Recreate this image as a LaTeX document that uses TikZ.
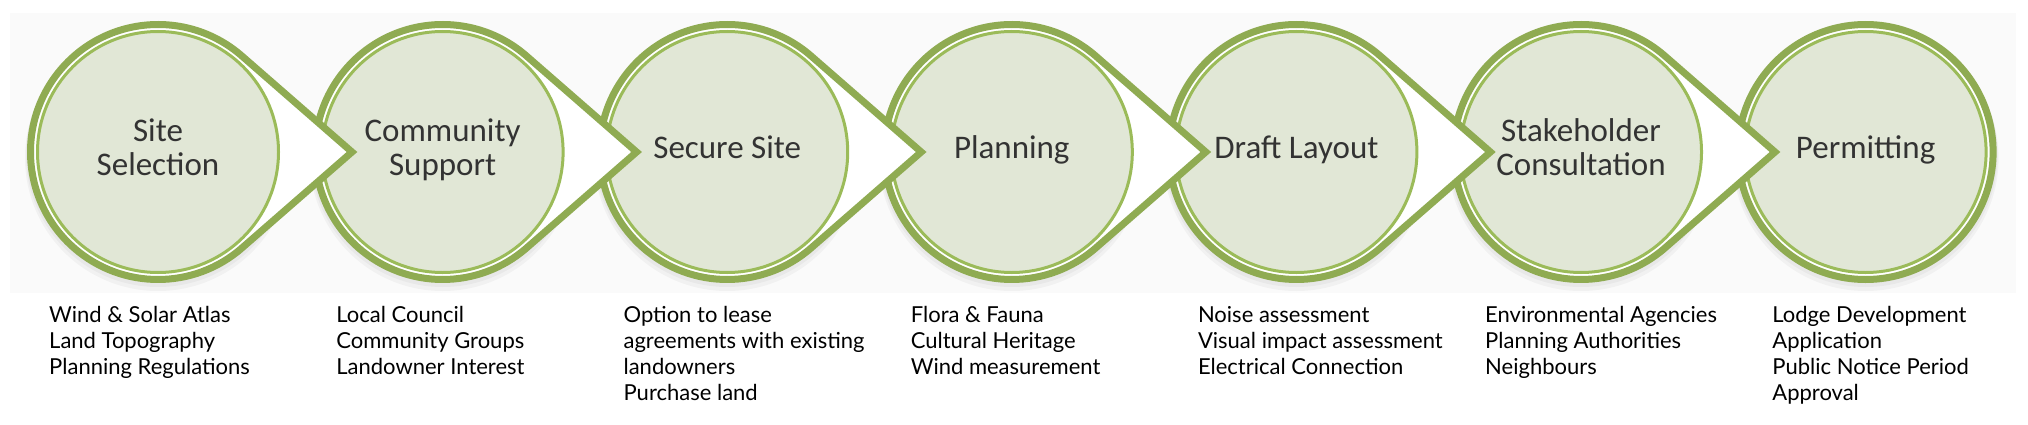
\documentclass[tikz,border=0pt]{standalone}
\usepackage{fontspec}
\usetikzlibrary{calc}
\newfontfamily\latofont{Lato}
\newfontfamily\calfont{Carlito}
\definecolor{band}{HTML}{8FAB52}
\definecolor{thinring}{HTML}{9BBB59}
\definecolor{disc}{HTML}{E1E7D6}
\definecolor{bgpanel}{HTML}{FAFAFA}
\definecolor{labeltext}{HTML}{333333}
\tikzset{
  teardrop/.style={draw=band, line width=7pt, fill=white, line join=miter, miter limit=10},
  innerdisc/.style={draw=thinring, line width=3pt, fill=disc},
  steplabel/.style={font=\calfont\fontsize{33}{34}\selectfont, text=labeltext, align=center, inner sep=0pt},
  itemlist/.style={font=\latofont\fontsize{22}{26}\selectfont, text=black, align=left, inner sep=0pt, anchor=north west},
  softshadow/.style={fill=black, opacity=0.035},
}
\begin{document}
\begin{tikzpicture}[x=1pt,y=1pt]
\useasboundingbox (0,0) rectangle (2028,424);
\fill[bgpanel] (10,131) rectangle (2016,411);
\foreach \k in {0,...,6} {
  \coordinate (c\k) at ({158+284.6*\k},272);
}
% soft shadows
\foreach \k in {0,...,6} {
  \fill[softshadow] ($(c\k)+(0,-6)$) circle[radius=133];
  \fill[softshadow] ($(c\k)+(0,-3)$) circle[radius=132];
}
% last step: plain circle
\draw[teardrop] (c6) circle[radius=127.5];
\draw[innerdisc] (c6) circle[radius=120.5];
% steps with arrow tips, drawn right to left so each tip lies on the next circle
\foreach \k in {5,4,...,0} {
  \draw[teardrop] ($(c\k)+(48.92:127.5)$) arc[start angle=48.92,end angle=311.08,radius=127.5]
     -- ($(c\k)+(194,0)$) -- cycle;
  \draw[innerdisc] (c\k) circle[radius=120.5];
}
% step labels
\node[steplabel] (l0) at (c0) {\strut Site\\\strut Selection};
\node[steplabel] (l1) at (c1) {\strut Community\\\strut Support};
\node[steplabel] (l2) at (c2) {\strut Secure Site};
\node[steplabel] (l3) at (c3) {\strut Planning};
\node[steplabel] (l4) at (c4) {\strut Draft Layout};
\node[steplabel] (l5) at (c5) {\strut Stakeholder\\\strut Consultation};
\node[steplabel] (l6) at (c6) {\strut Permitting};
% detail lists
\node[itemlist] (d0) at (49,120.2) {\strut Wind \& Solar Atlas\\Land Topography\\Planning Regulations};
\node[itemlist] (d1) at (336.2,120.2) {\strut Local Council\\Community Groups\\Landowner Interest};
\node[itemlist] (d2) at (623.4,120.2) {\strut Option to lease\\agreements with existing\\landowners\\Purchase land};
\node[itemlist] (d3) at (910.6,120.2) {\strut Flora \& Fauna\\Cultural Heritage\\Wind measurement};
\node[itemlist] (d4) at (1197.8,120.2) {\strut Noise assessment\\Visual impact assessment\\Electrical Connection};
\node[itemlist] (d5) at (1485,120.2) {\strut Environmental Agencies\\Planning Authorities\\Neighbours};
\node[itemlist] (d6) at (1772.2,120.2) {\strut Lodge Development\\Application\\Public Notice Period\\Approval};
\end{tikzpicture}
\end{document}
